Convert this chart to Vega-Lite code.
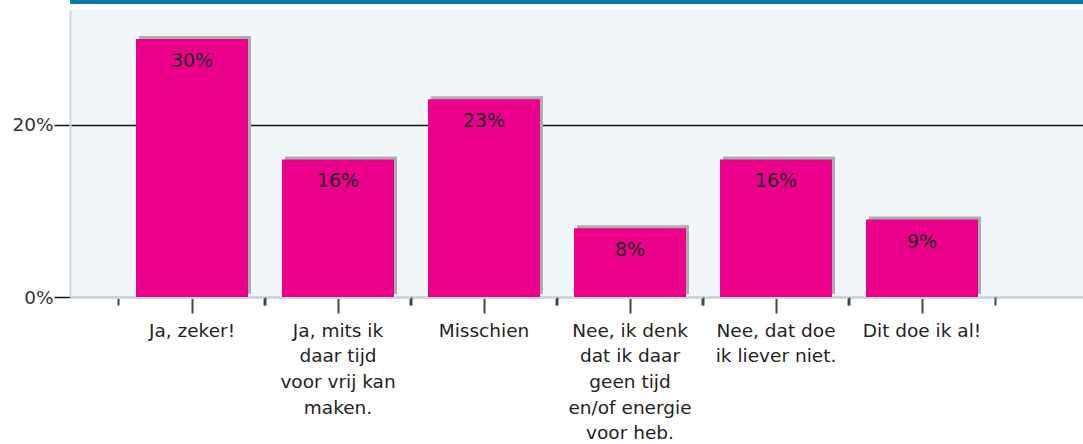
{
  "$schema": "https://vega.github.io/schema/vega-lite/v6.json",
  "autosize": "none",
  "padding": {"left": 70, "top": 10, "right": 0, "bottom": 147},
  "width": 1013,
  "height": 287,
  "background": "white",
  "config": {
    "view": {"fill": "#f1f6fa", "stroke": null},
    "font": "DejaVu Sans",
    "axis": {"labelFont": "DejaVu Sans"}
  },
  "data": {
    "values": [
      {"answer": "Ja, zeker!", "share": 0.30},
      {"answer": "Ja, mits ik|daar tijd|voor vrij kan|maken.", "share": 0.16},
      {"answer": "Misschien", "share": 0.23},
      {"answer": "Nee, ik denk|dat ik daar|geen tijd|en/of energie|voor heb.", "share": 0.08},
      {"answer": "Nee, dat doe|ik liever niet.", "share": 0.16},
      {"answer": "Dit doe ik al!", "share": 0.09}
    ]
  },
  "layer": [
    {
      "mark": {"type": "bar", "color": "#adadad", "xOffset": 3, "x2Offset": 3, "yOffset": -3},
      "encoding": {
        "x": {
          "field": "answer", "type": "nominal", "sort": null,
          "scale": {"paddingInner": 0.2329, "paddingOuter": 0.5856, "align": 0.386},
          "axis": {
            "orient": "bottom",
            "title": null, "labels": false, "domain": false, "grid": false,
            "bandPosition": -0.152, "tickSize": 8, "tickWidth": 2, "tickColor": "#444"
          }
        },
        "y": {
          "field": "share", "type": "quantitative",
          "scale": {"domain": [0, 0.3337], "nice": false, "zero": true},
          "axis": {
            "title": null, "values": [0, 0.2], "format": ".0%",
            "labelFontSize": 18.5, "labelColor": "#333", "labelPadding": 1,
            "tickSize": 16, "tickColor": "#111", "tickWidth": 1.5,
            "domainColor": "#d3d8dd", "domainWidth": 2,
            "grid": true,
            "gridColor": {"condition": {"test": "datum.value == 0", "value": "transparent"}, "value": "#111"},
            "gridWidth": 1.5
          }
        }
      }
    },
    {
      "mark": {"type": "bar", "color": "#ea008a"},
      "encoding": {
        "x": {
          "field": "answer", "type": "nominal", "sort": null,
          "axis": {
            "orient": "bottom",
            "title": null, "labelAngle": 0,
            "labelExpr": "split(datum.value, '|')",
            "labelFontSize": 18.5, "labelColor": "#222", "labelLineHeight": 25.7,
            "labelPadding": 8, "labelLimit": 0, "labelOverlap": false,
            "tickSize": 16, "tickWidth": 2, "tickColor": "#444",
            "domainColor": "#d0d5da", "domainWidth": 3
          }
        },
        "y": {"field": "share", "type": "quantitative"}
      }
    },
    {
      "mark": {"type": "text", "baseline": "top", "dy": 13, "fontSize": 19, "color": "#222"},
      "encoding": {
        "x": {
          "field": "answer", "type": "nominal", "sort": null,
          "axis": {
            "orient": "bottom",
            "title": null, "labels": false, "domain": false, "grid": false,
            "bandPosition": 1.152, "tickSize": 8, "tickWidth": 2, "tickColor": "#444"
          }
        },
        "y": {"field": "share", "type": "quantitative"},
        "text": {"field": "share", "type": "quantitative", "format": ".0%"}
      }
    },
    {
      "data": {"values": [{"strip": 0.343}]},
      "mark": {"type": "rule", "color": "#0a77ad", "strokeWidth": 4, "clip": false},
      "encoding": {
        "y": {"field": "strip", "type": "quantitative"}
      }
    }
  ],
  "resolve": {"axis": {"x": "independent", "y": "shared"}}
}
